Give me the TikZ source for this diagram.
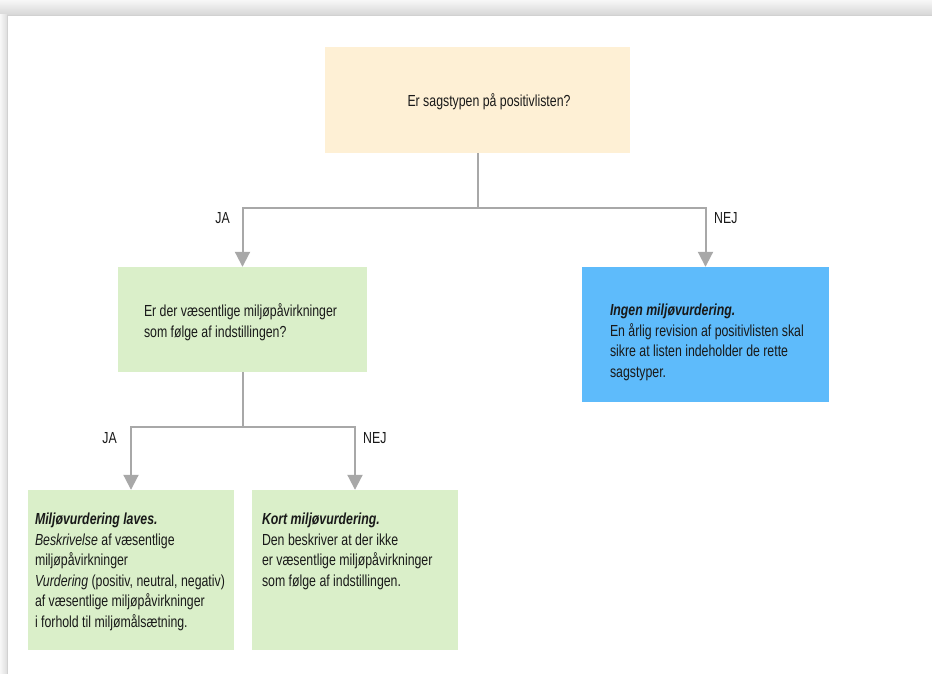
\documentclass[tikz,border=0pt]{standalone}
\usepackage{fontspec}
\setmainfont{Liberation Sans}[FakeStretch=0.77]
\usepackage{tikz}
\usetikzlibrary{positioning,arrows.meta}

\definecolor{peach}{RGB}{254,240,213}
\definecolor{leaf}{RGB}{218,239,201}
\definecolor{sky}{RGB}{94,187,251}
\definecolor{wire}{RGB}{168,168,168}
\definecolor{ink}{RGB}{25,25,25}

\begin{document}
\begin{tikzpicture}[x=1pt, y=-1pt,
   box/.style={inner sep=0pt, draw=none},
   txt/.style={inner sep=0pt, align=left, text=ink, font=\fontsize{16}{20.6}\selectfont},
   lbl/.style={inner sep=0pt, text=ink, font=\fontsize{16}{18}\selectfont},
   line/.style={draw=wire, line width=2pt},
   arr/.style={line, -{Triangle[length=15pt,width=15pt]}}]
   \useasboundingbox (0,0) rectangle (932,674);
   \shade[top color=black!3, bottom color=black!16] (0,0) rectangle (932,15);
   \shade[left color=black!3, right color=black!13] (0,15) rectangle (7,674);
   \fill[white, draw=black!18] (7,15) rectangle (940,680);

   \node[box, fill=peach, minimum width=305pt, minimum height=106pt] (q0) at (477.5,100) {};
   \node[box, fill=leaf, minimum width=249pt, minimum height=105pt] (ja1) at (242.5,319.5) {};
   \node[box, fill=sky, minimum width=247pt, minimum height=135pt] (nej1) at (705.5,334.5) {};
   \node[box, fill=leaf, minimum width=206pt, minimum height=160pt] (ja2) at (131,570) {};
   \node[box, fill=leaf, minimum width=206pt, minimum height=160pt] (nej2) at (355,570) {};

   \node[txt, anchor=base] (q0txt) at (489,107) {Er sagstypen på positivlisten?};
   \node[txt, anchor=north west] (ja1txt) at ([xshift=26pt, yshift=-37pt]ja1.north west)
      {Er der væsentlige miljøpåvirkninger\\som følge af indstillingen?};
   \node[txt, anchor=north west] (nej1txt) at ([xshift=28pt, yshift=-37pt]nej1.north west)
      {\textbf{\textit{Ingen miljøvurdering.}}\\En årlig revision af positivlisten skal\\sikre at listen indeholder de rette\\sagstyper.};
   \node[txt, anchor=north west] (ja2txt) at ([xshift=7pt, yshift=-23pt]ja2.north west)
      {\textbf{\textit{Miljøvurdering laves.}}\\\textit{Beskrivelse} af væsentlige\\miljøpåvirkninger\\\textit{Vurdering} (positiv, neutral, negativ)\\af væsentlige miljøpåvirkninger\\i forhold til miljømålsætning.};
   \node[txt, anchor=north west] (nej2txt) at ([xshift=10pt, yshift=-23pt]nej2.north west)
      {\textbf{\textit{Kort miljøvurdering.}}\\Den beskriver at der ikke\\er væsentlige miljøpåvirkninger\\som følge af indstillingen.};

   \draw[line] (q0.south) -- ++(0,54.5) coordinate (s1);
   \draw[arr] (s1) -| (ja1.north);
   \draw[arr] (s1) -| (nej1.north);
   \draw[line] (ja1.south) -- ++(0,55) coordinate (s2);
   \draw[arr] (s2) -| (ja2.north);
   \draw[arr] (s2) -| (nej2.north);

   \node[lbl, anchor=east] (ja1lbl) at (230,218) {JA};
   \node[lbl, anchor=west] (nej1lbl) at (714,218) {NEJ};
   \node[lbl, anchor=east] (ja2lbl) at (117,438) {JA};
   \node[lbl, anchor=west] (nej2lbl) at (363,438) {NEJ};
\end{tikzpicture}
\end{document}
